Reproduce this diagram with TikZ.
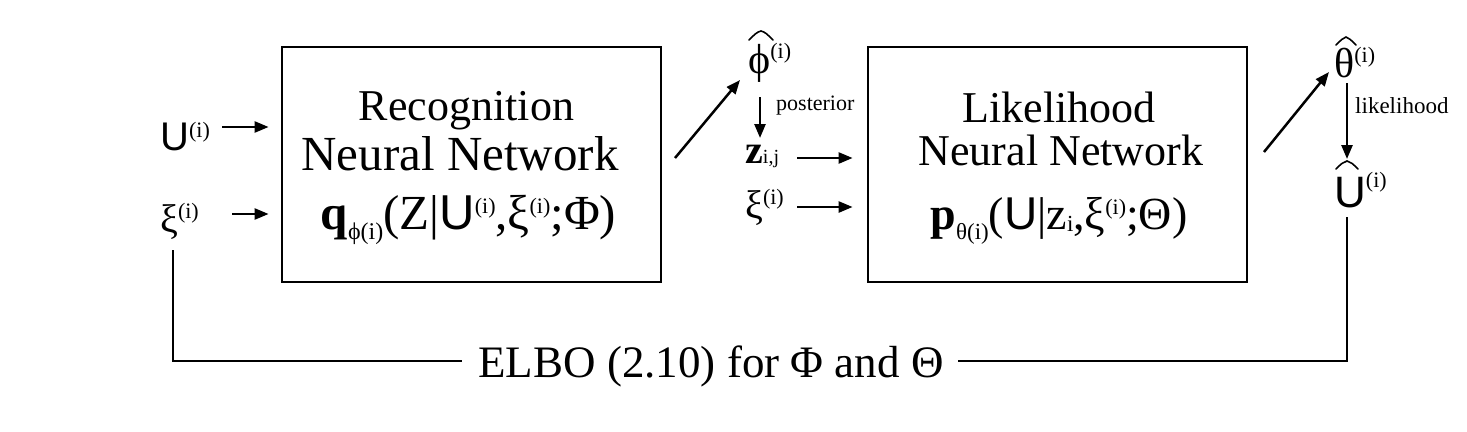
\documentclass[tikz,border=0pt]{standalone}
\usepackage{fontspec}
\setmainfont{Liberation Serif}
\newfontfamily\sansU{Liberation Sans}
\usetikzlibrary{arrows.meta}
\tikzset{
  box/.style={draw, line width=2.8pt, minimum width=379pt, minimum height=235pt, inner sep=0pt},
  txt/.style={inner sep=0pt, anchor=base, font=\fontsize{44}{44}\selectfont},
  lbl/.style={inner sep=0pt, anchor=base west},
  small/.style={inner sep=0pt, anchor=west, font=\fontsize{22}{22}\selectfont},
  arr/.style={line width=2.5pt, -{Triangle[length=14pt,width=11pt]}},
  ln/.style={line width=2.5pt},
  hat/.style={line width=1.6pt, line cap=round}
}
\newcommand\SP[2][20]{\raisebox{#2}{\fontsize{#1}{#1}\selectfont(i)}}
\begin{document}
\begin{tikzpicture}[x=1pt,y=-1pt]
\useasboundingbox[fill=white] (0,0) rectangle (1467,431);
% boxes
\node[box] (rec) at (471.5,164.5) {};
\node[box] (lik) at (1057.5,164.5) {};
% recognition text
\node[txt] (r1) at (466.5,120) {Recognition};
\node[txt, font=\fontsize{49}{49}\selectfont] (r2) at (460,170) {Neural Network};
\node[txt, font=\fontsize{49}{49}\selectfont] (r3) at (468.5,229) {{\bfseries q}\raisebox{-10pt}{\fontsize{24}{24}\selectfont ϕ(i)}(Z|{\sansU U}\SP[22]{16pt},ξ\SP[22]{16pt};Φ)};
% likelihood text
\node[txt] (l1) at (1059,122) {Likelihood};
\node[txt] (l2) at (1061,165) {Neural Network};
\node[txt, font=\fontsize{46}{46}\selectfont] (l3) at (1059,229) {{\bfseries p}\raisebox{-10pt}{\fontsize{23}{23}\selectfont θ(i)}({\sansU U}|z\raisebox{-2pt}{\fontsize{23}{23}\selectfont i},ξ\SP[22]{15pt};Θ)};
% left inputs
\node[lbl, font=\fontsize{40}{40}\selectfont] (U) at (160,150) {{\sansU U}\SP[22]{13pt}};
\node[lbl, font=\fontsize{40}{40}\selectfont] (xi) at (160,232) {ξ\SP[22]{14pt}};
\coordinate (ua) at (222,127);
\coordinate (xa) at (232,214);
\draw[arr] (ua) -- (ua -| rec.west) [shorten >=12pt];
\draw[arr] (xa) -- (xa -| rec.west) [shorten >=12pt];
% middle
\node[lbl, font=\fontsize{42}{42}\selectfont] (phi) at (748,73) {ϕ\SP[22]{15pt}};
\draw[hat] (749,40) .. controls (755,34) and (757,32) .. (761,31) .. controls (765,32) and (767,34) .. (773,40);
\coordinate (d1) at (675,158);
\coordinate (d2) at (740,80);
\draw[arr] (d1) -- (d2);
\coordinate (pa) at (760,97);
\coordinate (pb) at (760,138);
\draw[arr] (pa) -- (pb);
\node[small] (post) at (776,106) {posterior};
\node[lbl, font=\fontsize{40}{40}\selectfont] (z) at (745,163) {\textbf{z}{\fontsize{20}{20}\selectfont i,j}};
\node[lbl, font=\fontsize{40}{40}\selectfont] (xi2) at (745,218) {ξ\SP[22]{14pt}};
\coordinate (za) at (797,158);
\coordinate (xb) at (797,207);
\draw[arr] (za) -- (za -| lik.west) [shorten >=14pt];
\draw[arr] (xb) -- (xb -| lik.west) [shorten >=14pt];
% right
\node[lbl, font=\fontsize{42}{42}\selectfont] (th) at (1334,77) {θ\SP[22]{15pt}};
\draw[hat] (1336,45) .. controls (1341,40) and (1343,38) .. (1346,37) .. controls (1349,38) and (1351,40) .. (1356,45);
\coordinate (e1) at (1264,152);
\coordinate (e2) at (1329,72);
\draw[arr] (e1) -- (e2);
\coordinate (ta) at (1347,83);
\coordinate (tb) at (1347,159);
\draw[arr] (ta) -- (tb);
\node[small, font=\fontsize{23}{23}\selectfont] (lk) at (1355,106) {likelihood};
\node[lbl, font=\fontsize{44}{44}\selectfont] (Uh) at (1334,207) {{\sansU U}\SP[22]{20pt}};
\draw[hat] (1336,169) .. controls (1341,164) and (1343,162) .. (1347,161) .. controls (1351,162) and (1353,164) .. (1358,169);
% ELBO feedback
\node[txt, font=\fontsize{45}{45}\selectfont] (elbo) at (711,377) {ELBO (2.10) for Φ and Θ};
\coordinate (c1) at (173,250);
\coordinate (c2) at (1347,217);
\coordinate (f1) at (462,361);
\coordinate (f2) at (958,361);
\draw[ln] (c1) |- (f1);
\draw[ln] (c2) |- (f2);
\end{tikzpicture}
\end{document}
